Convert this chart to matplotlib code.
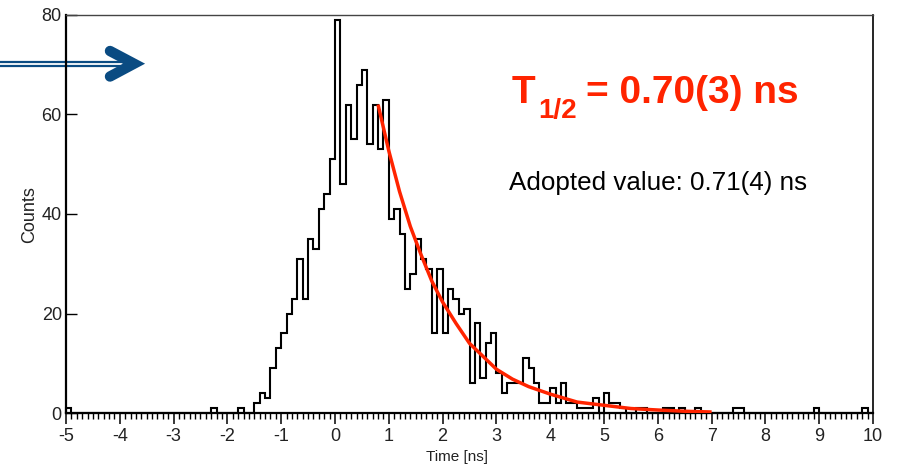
import numpy as np
import matplotlib
matplotlib.use('Agg')
import matplotlib.pyplot as plt
from matplotlib.lines import Line2D

#---------Data--------------------------------
x_start = -5.0 #left edge of first bin [ns]
bin_width = 0.1 #ns

#counts per 0.1 ns bin, from -5.0 to 9.9 (10 bins per row)
counts = [
    1, 0, 0, 0, 0, 0, 0, 0, 0, 0,
    0, 0, 0, 0, 0, 0, 0, 0, 0, 0,
    0, 0, 0, 0, 0, 0, 0, 1, 0, 0,
    0, 0, 1, 0, 0, 2, 4, 3, 9, 13,
    16, 20, 23, 31, 23, 35, 33, 41, 44, 51,
    79, 46, 62, 55, 66, 69, 54, 62, 53, 63,
    39, 41, 36, 25, 28, 35, 31, 29, 16, 29,
    16, 25, 23, 20, 21, 6, 18, 7, 14, 16,
    8, 4, 6, 6, 6, 11, 9, 6, 2, 2,
    5, 2, 6, 2, 2, 1, 1, 1, 3, 0,
    4, 2, 2, 1, 0, 0, 1, 1, 0, 0,
    0, 1, 1, 0, 1, 0, 0, 1, 0, 0,
    0, 0, 0, 0, 1, 1, 0, 0, 0, 0,
    0, 0, 0, 0, 0, 0, 0, 0, 0, 1,
    0, 0, 0, 0, 0, 0, 0, 0, 1, 0,
]

#fit curve, points
fit_t = [0.8, 1.0, 1.2, 1.4, 1.6, 1.8, 2.0, 2.25, 2.5, 2.75,
         3.0, 3.3, 3.6, 4.0, 4.5, 5.0, 5.5, 6.0, 6.5, 7.0]
fit_counts = [62.0, 52.7, 44.5, 37.5, 31.8, 26.5, 22.3, 18.0, 14.0, 11.4,
              8.8, 6.8, 5.3, 3.8, 2.2, 1.55, 0.9, 0.6, 0.35, 0.2]

x_ticks = [-5, -4, -3, -2, -1, 0, 1, 2, 3, 4, 5, 6, 7, 8, 9, 10]
y_ticks = [0, 20, 40, 60, 80]

fit_label = '= 0.70(3) ns'
adopted_label = 'Adopted value: 0.71(4) ns'

#---------Figure-----------
W, H = 899, 471
plt.rcParams['font.family'] = ['Liberation Sans', 'DejaVu Sans']
plt.rcParams['axes.unicode_minus'] = False #plain hyphen like the original
fig = plt.figure(figsize=(W / 100, H / 100), dpi=100, facecolor='white')

def fx(px): #pixel -> figure fraction
    return px / W

def fy(py):
    return 1 - py / H

ax = fig.add_axes([fx(66), fy(413), fx(873) - fx(66), fy(15) - fy(413)])
ax.set_facecolor('none')

edges = x_start + bin_width * np.arange(len(counts) + 1)
ax.stairs(counts, edges, color='black', linewidth=1.5, baseline=0, clip_on=False, zorder=3)
ax.plot(fit_t, fit_counts, color='#ff2400', linewidth=2.5, solid_capstyle='butt', zorder=4)

ax.set_xlim(-5, 10)
ax.set_ylim(0, 80)
ax.set_xticks(x_ticks)
ax.set_xticks(np.arange(-5, 10.001, 0.1), minor=True)
ax.set_yticks(y_ticks)
ax.tick_params(axis='x', which='major', direction='out', length=8, width=1.1,
               labelsize=13, pad=3, labelcolor='#222222')
ax.tick_params(axis='x', which='minor', direction='out', length=4.3, width=1.0)
ax.tick_params(axis='y', which='major', direction='in', length=7.7, width=1.0,
               labelsize=13, pad=3, labelcolor='#222222')
ax.spines['left'].set_linewidth(1.6)
ax.spines['bottom'].set_linewidth(1.6)
ax.spines['top'].set_linewidth(1.0)
ax.spines['right'].set_linewidth(1.2)
ax.spines['top'].set_color('#444444')

fig.text(fx(30), fy(215), 'Counts', rotation=90, ha='center', va='center', fontsize=13, color='#222222')
fig.text(fx(457), fy(457), 'Time [ns]', ha='center', va='center', fontsize=11, color='#222222')

#---------Annotations-----------
red = '#ff2400'
fig.text(fx(512), fy(103.3), 'T', fontsize=28, weight='bold', color=red, va='baseline')
fig.text(fx(538), fy(118.3), '1/2', fontsize=20, weight='bold', color=red, va='baseline')
fig.text(fx(586), fy(103.3), fit_label, fontsize=28, weight='bold', color=red, va='baseline')
fig.text(fx(509), fy(190), adopted_label, fontsize=18.7, color='black', va='baseline')

#double arrow on the left, drawn under the axes frame
blue = '#0a4b82'
for yy in (61.7, 65.7):
    fig.add_artist(Line2D([fx(0), fx(128)], [fy(yy), fy(yy)], color=blue, linewidth=1.6, zorder=-1))
fig.add_artist(Line2D([fx(110), fx(134), fx(110)], [fy(51), fy(63.7), fy(76.5)],
                      color=blue, linewidth=7.5, solid_capstyle='round',
                      solid_joinstyle='miter', zorder=-1))

fig.savefig('out.png', dpi=100, facecolor='white')
